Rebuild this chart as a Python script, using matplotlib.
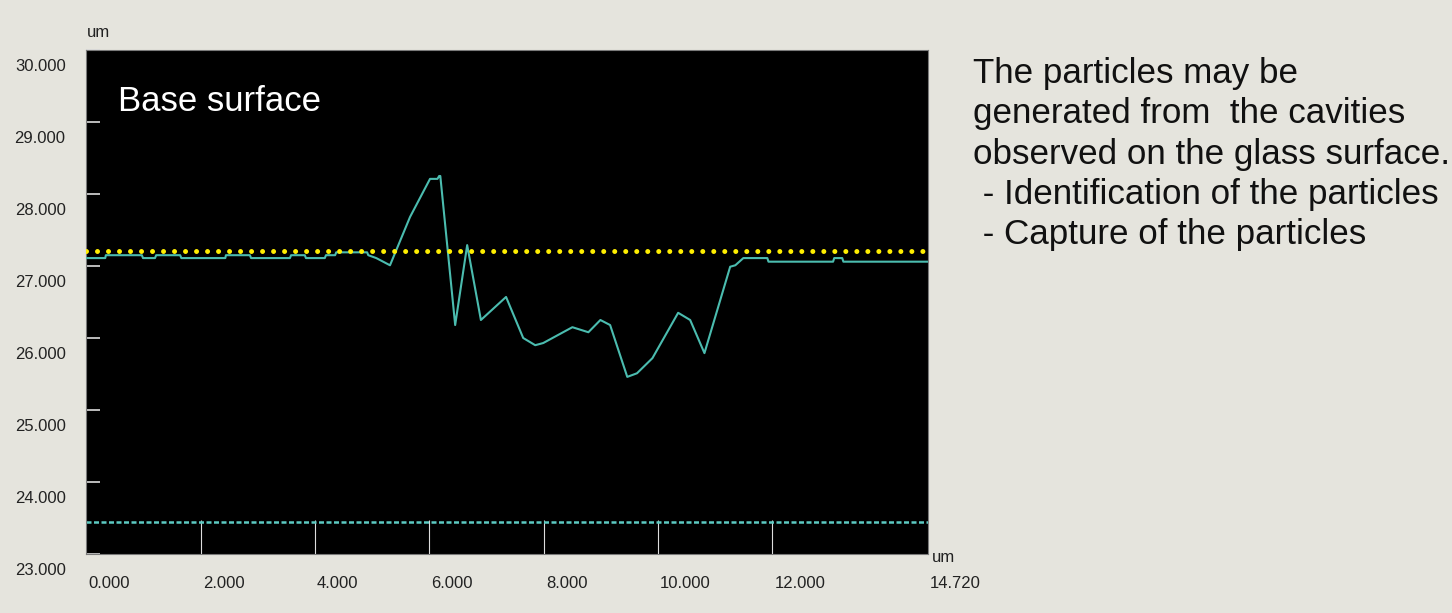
import numpy as np
import matplotlib
matplotlib.use("Agg")
import matplotlib.pyplot as plt
from matplotlib.transforms import ScaledTranslation

# measured surface profile (position in um, height in um)
pos = [0.00, 0.33, 0.34, 0.97, 0.99, 1.20, 1.22, 1.64, 1.66, 2.43,
       2.44, 2.86, 2.88, 3.56, 3.58, 3.82, 3.84, 4.17, 4.19, 4.35,
       4.37, 4.91, 4.93, 5.07, 5.19, 5.31, 5.66, 6.01, 6.14, 6.17,
       6.19, 6.45, 6.66, 6.90, 7.34, 7.64, 7.85, 7.99, 8.50, 8.78,
       8.99, 9.16, 9.46, 9.63, 9.90, 10.35, 10.56, 10.81, 11.26, 11.35,
       11.49, 11.91, 11.93, 13.06, 13.08, 13.22, 13.24, 14.72]
height = [27.11, 27.11, 27.15, 27.15, 27.11, 27.11, 27.15, 27.15, 27.11, 27.11,
          27.15, 27.15, 27.11, 27.11, 27.15, 27.15, 27.11, 27.11, 27.15, 27.15,
          27.19, 27.19, 27.15, 27.11, 27.06, 27.01, 27.68, 28.21, 28.21, 28.25,
          28.25, 26.18, 27.29, 26.25, 26.57, 26.00, 25.90, 25.93, 26.15, 26.08,
          26.25, 26.18, 25.46, 25.51, 25.72, 26.35, 26.25, 25.79, 26.99, 27.01,
          27.11, 27.11, 27.06, 27.06, 27.11, 27.11, 27.06, 27.06]

base_level = 27.21   # reference surface (yellow dots)
floor_level = 23.45  # lower cursor (cyan dashes)

x_ticks = [0, 2, 4, 6, 8, 10, 12, 14.72]
x_labels = ["0.000", "2.000", "4.000", "6.000", "8.000", "10.000", "12.000", "14.720"]
y_ticks = [23, 24, 25, 26, 27, 28, 29, 30]
y_labels = ["23.000", "24.000", "25.000", "26.000", "27.000", "28.000", "29.000", "30.000"]

notes = ["The particles may be",
         "generated from  the cavities",
         "observed on the glass surface.",
         " - Identification of the particles",
         " - Capture of the particles"]

W, H = 1452, 613
bg = "#e5e4dd"
tick_font = "Liberation Sans"
tick_size = 12

fig = plt.figure(figsize=(W / 100, H / 100), dpi=100, facecolor=bg)
ax = fig.add_axes([86.4 / W, (H - 554) / H, (928 - 86.4) / W, (554 - 50) / H])
ax.set_facecolor("black")

ax.plot(pos, height, color="#4bbcaf", lw=1.5, zorder=3)
ax.axhline(floor_level, color="#5ccac2", lw=1.8, linestyle=(0, (2, 1)), zorder=2)
ax.axhline(base_level, color="#ffee00", lw=3.6, linestyle=(0, (0.001, 2.2)),
           dash_capstyle="round", zorder=4)

ax.set_xlim(0, 14.72)
ax.set_ylim(23, 30)
for s in ax.spines.values():
    s.set_color("#7a7a7a")
    s.set_linewidth(0.8)

ax.set_xticks(x_ticks)
ax.set_xticklabels(x_labels, fontsize=tick_size, family=tick_font, color="#222222", ha="left")
ax.set_yticks(y_ticks)
ax.set_yticklabels(y_labels, fontsize=tick_size, family=tick_font, color="#222222")
ax.tick_params(axis="x", direction="in", length=24.5, width=0.8, color="#dddddd", pad=16)
ax.tick_params(axis="y", direction="in", length=10, width=1.2, color="#dddddd", pad=15)

xt = ax.xaxis.get_major_ticks()
xt[0].tick1line.set_visible(False)
xt[-1].tick1line.set_visible(False)

# labels sit a little right of / below their ticks
for lbl in ax.get_xticklabels():
    lbl.set_transform(lbl.get_transform() + ScaledTranslation(2 / 100, 0, fig.dpi_scale_trans))
for lbl in ax.get_yticklabels():
    lbl.set_transform(lbl.get_transform() + ScaledTranslation(0, -15 / 100, fig.dpi_scale_trans))

# unit labels
fig.text(87 / W, 1 - 37 / H, "um", fontsize=tick_size, family=tick_font, color="#222222", va="baseline")
fig.text(932 / W, 1 - 562 / H, "um", fontsize=tick_size, family=tick_font, color="#222222", va="baseline")

fig.text(118 / W, 1 - 111 / H, "Base surface", fontsize=25, family="Liberation Sans",
         color="white", va="baseline")

baselines = [83, 123, 164, 204, 244]
for line, yb in zip(notes, baselines):
    fig.text(973 / W, 1 - yb / H, line, fontsize=25.2, family="Liberation Sans",
             color="#111111", va="baseline")

fig.savefig("out.png", dpi=100, facecolor=bg)
